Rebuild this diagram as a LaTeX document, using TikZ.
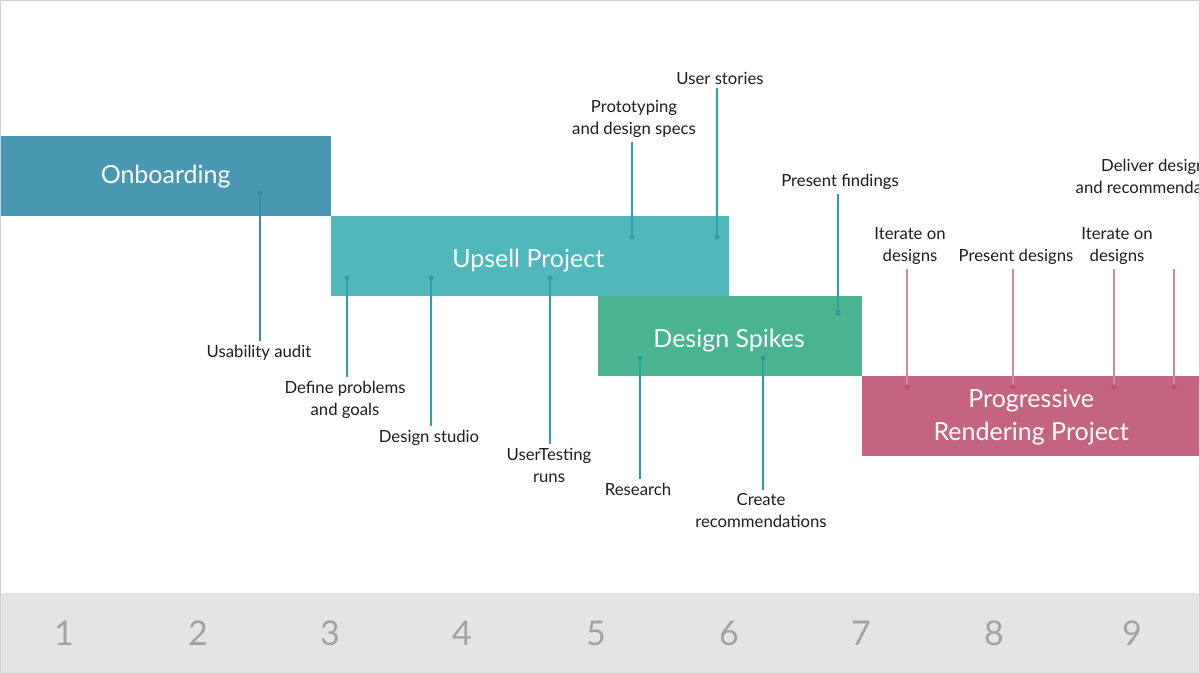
\documentclass[tikz,border=0pt]{standalone}
\usepackage{fontspec}
\setmainfont{Lato}
\definecolor{onbc}{HTML}{4898B1}
\definecolor{upsc}{HTML}{50B8BB}
\definecolor{spkc}{HTML}{4AB391}
\definecolor{prgc}{HTML}{C4647F}
\definecolor{onbl}{HTML}{3A8CA6}
\definecolor{upsl}{HTML}{2AA1A6}
\definecolor{spkl}{HTML}{23A2A4}
\definecolor{prgl}{HTML}{D08A9F}
\definecolor{prgd}{HTML}{BA5275}
\definecolor{band}{HTML}{E4E4E4}
\definecolor{numc}{HTML}{A2A2A2}
\definecolor{frame}{HTML}{D0D0D0}
\definecolor{txt}{HTML}{1E1E1E}
\begin{document}
\begin{tikzpicture}[x=1pt,y=-1pt,
  bar/.style={anchor=north west, minimum height=80pt, inner sep=0pt},
  bartext/.style={text=white, font=\fontsize{25}{33}\selectfont, align=center,
    inner sep=0pt, text height=18pt, text depth=0pt},
  lbl/.style={font=\fontsize{16.7}{22}\selectfont, align=center, inner xsep=0pt, inner ysep=4pt, text=txt},
  dot/.style={circle, inner sep=0pt, minimum size=5pt, fill=#1},
  conn/.style={line width=1.4pt, draw=#1},
  num/.style={font=\fontsize{34}{34}\selectfont, text=numc}]
\useasboundingbox (0,0) rectangle (1200,674);
\clip (0,0) rectangle (1200,674);
\fill[white] (0,0) rectangle (1200,674);
% bottom band
\fill[band] (0,593) rectangle (1200,674);
\foreach \x/\n in {64/1,198/2,330/3,462/4,596/5,729/6,861/7,994/8,1132/9}
  \node[num] (n\n) at (\x,633) {\n};
% bars
\node[bar, fill=onbc, minimum width=331pt] (onb) at (0,136) {};
\node[bar, fill=upsc, minimum width=398pt] (ups) at (331,216) {};
\node[bar, fill=spkc, minimum width=264pt] (spk) at (598,296) {};
\node[bar, fill=prgc, minimum width=340pt] (prg) at (862,376) {};
\node[bartext] (onbt) at ([yshift=2pt]onb.center) {Onboarding};
\node[bartext] (upst) at ([xshift=-2pt,yshift=-2pt]ups.center) {Upsell Project};
\node[bartext] (spkt) at ([xshift=-1pt,yshift=-2pt]spk.center) {Design Spikes};
\node[bartext] (prgt) at ([xshift=-1pt,yshift=-15.5pt]prg.center) {Progressive\\Rendering Project};
% labels
\node[lbl] (l1) at (259,353) {Usability audit};
\node[lbl] (l2) at (345,400) {Define problems\\and goals};
\node[lbl] (l3) at (429,438) {Design studio};
\node[lbl] (l4) at (549,465) {UserTesting\\runs};
\node[lbl] (l5) at (634,119) {Prototyping\\and design specs};
\node[lbl] (l6) at (720,78) {User stories};
\node[lbl] (l7) at (840,182) {Present findings};
\node[lbl] (l8) at (638,489) {Research};
\node[lbl] (l9) at (761,511) {Create\\recommendations};
\node[lbl] (l10) at (910,246) {Iterate on\\designs};
\node[lbl] (l11) at (1016,257) {Present designs};
\node[lbl] (l12) at (1117,246) {Iterate on\\designs};
\node[lbl] (l13) at (1157,176) {Deliver designs\\and recommendations};
% dots
\coordinate (d1) at (260,193);
\coordinate (d2) at (347,278);
\coordinate (d3) at (431,278);
\coordinate (d4) at (550,278);
\coordinate (d5) at (632,237);
\coordinate (d6) at (717,237);
\coordinate (d7) at (838,313);
\coordinate (d8) at (640,358);
\coordinate (d9) at (763,358);
\coordinate (d10) at (907,387);
\coordinate (d11) at (1013,387);
\coordinate (d12) at (1114,387);
\coordinate (d13) at (1174,387);
% connectors
\draw[conn=onbl] (d1) -- (d1 |- l1.north);
\foreach \i in {2,3,4} \draw[conn=upsl] (d\i) -- (d\i |- l\i.north);
\foreach \i in {5,6} \draw[conn=upsl] (d\i) -- (d\i |- l\i.south);
\draw[conn=spkl] (d7) -- (d7 |- l7.south);
\foreach \i in {8,9} \draw[conn=spkl] (d\i) -- (d\i |- l\i.north);
\foreach \i in {10,11,12} \draw[conn=prgl] (d\i) -- (d\i |- l\i.south);
\draw[conn=prgl] (d13) -- (d13 |- l12.south);
\node[dot=onbl] at (d1) {};
\foreach \i in {2,...,6} \node[dot=upsl] at (d\i) {};
\foreach \i in {7,8,9} \node[dot=spkl] at (d\i) {};
\foreach \i in {10,...,13} \node[dot=prgd] at (d\i) {};
% frame
\draw[frame, line width=1.5pt] (0,0) rectangle (1200,674);
\end{tikzpicture}
\end{document}
